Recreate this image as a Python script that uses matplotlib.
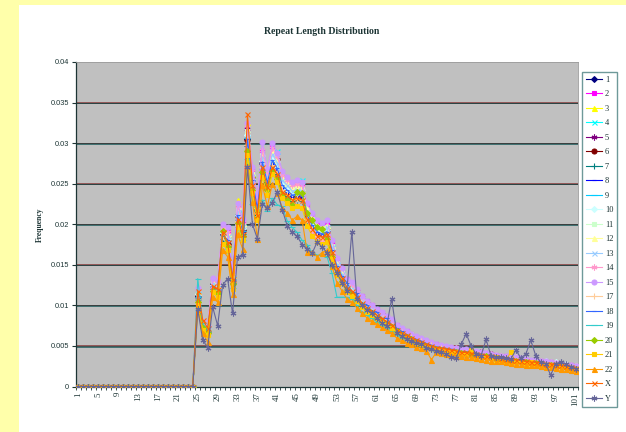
import matplotlib
matplotlib.use("Agg")
import matplotlib.pyplot as plt
from matplotlib.patches import Rectangle
import numpy as np

# Repeat lengths 1..101 on the category axis
lengths = list(range(1, 102))
tick_labels = [str(v) for v in range(1, 102, 4)]
y_ticks = [0, 0.005, 0.01, 0.015, 0.02, 0.025, 0.03, 0.035, 0.04]
y_tick_labels = ["0", "0.005", "0.01", "0.015", "0.02", "0.025", "0.03", "0.035", "0.04"]

# Frequencies are stored per 10,000; lengths 1-24 carry no repeats
LEAD = [0] * 24

# Lengths 25..101 for each chromosome
S1 = [112, 76, 70, 126, 120, 188, 176, 133, 212, 194,
      305, 254, 220, 276, 252, 280, 270, 250, 236, 238,
      238, 234, 212, 200, 190, 190, 192, 170, 150, 138,
      126, 121, 113, 106, 100, 95, 90, 86, 83, 79,
      72, 68, 65, 62, 59, 57, 54, 52, 50, 48,
      47, 46, 45, 43, 43, 42, 41, 40, 39, 38,
      37, 36, 35, 34, 34, 33, 32, 31, 31, 30,
      29, 29, 28, 27, 26, 25, 24]
S2 = [120, 80, 74, 132, 126, 196, 192, 140, 220, 204,
      318, 268, 228, 290, 262, 296, 262, 248, 240, 236,
      250, 246, 222, 210, 200, 198, 200, 178, 156, 145,
      132, 128, 118, 111, 105, 100, 95, 91, 86, 82,
      76, 71, 68, 65, 61, 59, 56, 54, 52, 50,
      49, 48, 47, 45, 45, 44, 43, 42, 41, 40,
      39, 38, 37, 35, 35, 34, 33, 32, 32, 31,
      30, 30, 29, 28, 27, 26, 25]
S3 = [116, 78, 72, 128, 124, 194, 186, 136, 230, 198,
      326, 262, 224, 284, 258, 288, 276, 254, 248, 244,
      244, 242, 218, 204, 196, 194, 196, 172, 152, 140,
      128, 124, 115, 108, 102, 97, 92, 88, 84, 80,
      73, 69, 66, 63, 60, 58, 55, 52, 50, 49,
      48, 47, 46, 44, 44, 43, 42, 41, 40, 39,
      34, 33, 33, 32, 31, 31, 30, 29, 29, 28,
      29, 29, 28, 27, 26, 25, 24]
S4 = [114, 77, 71, 126, 122, 190, 184, 134, 214, 196,
      308, 258, 222, 282, 255, 290, 290, 252, 246, 240,
      244, 255, 216, 202, 194, 192, 194, 172, 150, 139,
      127, 122, 114, 107, 101, 96, 91, 87, 83, 79,
      73, 68, 65, 62, 59, 57, 54, 52, 50, 48,
      47, 46, 45, 43, 43, 42, 41, 40, 39, 38,
      37, 36, 35, 34, 34, 33, 32, 31, 31, 30,
      29, 29, 28, 27, 26, 25, 24]
S5 = [108, 75, 69, 124, 119, 186, 180, 131, 210, 192,
      318, 252, 218, 276, 250, 278, 268, 246, 240, 236,
      236, 234, 210, 198, 190, 188, 190, 168, 148, 136,
      130, 126, 118, 110, 103, 98, 93, 89, 85, 81,
      71, 67, 64, 61, 58, 56, 53, 51, 49, 48,
      47, 46, 45, 43, 42, 42, 41, 40, 39, 38,
      37, 36, 35, 34, 33, 33, 32, 31, 30, 30,
      29, 28, 28, 27, 26, 25, 24]
S6 = [111, 76, 70, 125, 121, 188, 175, 132, 210, 193,
      304, 257, 218, 275, 262, 280, 280, 252, 240, 236,
      236, 234, 214, 198, 190, 192, 193, 162, 150, 137,
      125, 121, 112, 106, 99, 95, 90, 86, 82, 78,
      72, 68, 64, 61, 58, 56, 53, 51, 49, 48,
      44, 48, 43, 45, 40, 44, 39, 42, 37, 40,
      37, 36, 35, 34, 33, 33, 32, 31, 30, 30,
      29, 28, 28, 27, 26, 25, 24]
S7 = [108, 73, 67, 120, 116, 182, 176, 128, 205, 188,
      296, 247, 212, 268, 244, 272, 262, 241, 235, 229,
      230, 229, 205, 193, 185, 182, 186, 163, 143, 132,
      120, 116, 108, 101, 95, 91, 86, 82, 78, 74,
      69, 65, 62, 59, 56, 54, 51, 49, 47, 46,
      45, 44, 43, 41, 41, 40, 39, 38, 37, 36,
      35, 34, 33, 32, 32, 31, 30, 29, 29, 28,
      27, 27, 26, 25, 24, 23, 22]
S8 = [109, 75, 68, 123, 117, 184, 179, 131, 207, 191,
      302, 251, 216, 272, 249, 276, 266, 246, 240, 233,
      234, 233, 209, 197, 189, 186, 189, 166, 146, 135,
      123, 119, 111, 104, 98, 94, 89, 85, 81, 77,
      71, 67, 64, 61, 58, 56, 53, 51, 49, 48,
      47, 46, 44, 43, 42, 42, 41, 40, 39, 37,
      38, 34, 36, 32, 34, 31, 32, 29, 31, 28,
      28, 28, 27, 26, 25, 24, 23]
S9 = [110, 75, 69, 124, 120, 187, 180, 132, 210, 192,
      306, 253, 218, 276, 251, 279, 269, 248, 241, 236,
      237, 236, 211, 199, 191, 188, 191, 168, 148, 136,
      124, 120, 112, 105, 99, 95, 90, 86, 82, 78,
      72, 68, 64, 61, 58, 56, 53, 51, 49, 48,
      50, 49, 48, 46, 45, 44, 43, 42, 41, 40,
      37, 36, 35, 34, 33, 33, 32, 31, 30, 29,
      29, 28, 27, 27, 26, 25, 24]
S10 = [114, 77, 70, 125, 121, 189, 182, 134, 212, 195,
       310, 256, 220, 278, 254, 282, 272, 250, 244, 238,
       239, 238, 214, 201, 193, 190, 193, 170, 149, 138,
       126, 121, 113, 106, 100, 96, 91, 87, 82, 78,
       72, 68, 65, 62, 59, 57, 54, 52, 49, 48,
       47, 46, 45, 43, 43, 42, 41, 40, 39, 38,
       37, 36, 35, 34, 34, 33, 32, 31, 31, 30,
       31, 27, 30, 25, 28, 23, 25]
S11 = [115, 80, 72, 128, 125, 193, 186, 137, 218, 199,
       315, 262, 226, 285, 260, 289, 278, 256, 250, 244,
       245, 243, 218, 206, 197, 194, 197, 173, 152, 141,
       128, 124, 116, 108, 102, 98, 92, 88, 84, 80,
       74, 71, 64, 65, 58, 59, 53, 54, 49, 50,
       48, 47, 46, 44, 44, 43, 42, 41, 40, 39,
       38, 37, 36, 35, 35, 34, 33, 32, 32, 30,
       29, 29, 28, 27, 26, 25, 24]
S12 = [117, 78, 73, 130, 125, 196, 189, 138, 222, 201,
       318, 265, 228, 288, 263, 292, 281, 259, 252, 246,
       247, 246, 220, 208, 199, 196, 199, 175, 154, 142,
       129, 125, 117, 109, 103, 99, 93, 89, 85, 81,
       74, 70, 67, 64, 60, 58, 55, 53, 51, 50,
       49, 48, 47, 45, 45, 43, 42, 41, 40, 39,
       40, 36, 38, 33, 37, 32, 35, 31, 33, 29,
       30, 30, 29, 28, 27, 25, 24]
S13 = [115, 77, 70, 127, 123, 192, 185, 135, 216, 198,
       312, 260, 224, 283, 258, 286, 276, 254, 248, 241,
       242, 241, 216, 204, 196, 192, 196, 172, 151, 139,
       127, 123, 114, 107, 101, 97, 92, 87, 83, 79,
       73, 69, 66, 62, 59, 57, 54, 52, 50, 49,
       50, 45, 48, 42, 46, 41, 44, 39, 42, 37,
       37, 36, 35, 34, 34, 33, 32, 31, 31, 30,
       29, 29, 28, 27, 26, 25, 24]
S14 = [120, 79, 73, 132, 127, 198, 190, 139, 223, 203,
       322, 268, 230, 291, 265, 294, 284, 261, 255, 248,
       249, 248, 206, 192, 184, 180, 184, 162, 142, 132,
       131, 126, 118, 110, 104, 100, 94, 90, 86, 81,
       75, 71, 67, 64, 61, 59, 56, 54, 51, 50,
       49, 48, 47, 45, 45, 44, 43, 42, 41, 40,
       39, 38, 36, 35, 35, 34, 33, 32, 32, 31,
       30, 30, 29, 28, 27, 26, 25]
S15 = [122, 81, 74, 134, 130, 200, 196, 142, 226, 206,
       325, 270, 234, 302, 268, 300, 288, 266, 258, 252,
       254, 252, 226, 214, 205, 201, 205, 180, 158, 146,
       133, 129, 120, 112, 106, 101, 96, 92, 87, 83,
       76, 72, 69, 65, 62, 60, 57, 55, 52, 51,
       50, 49, 48, 46, 46, 45, 44, 43, 41, 40,
       39, 38, 37, 36, 36, 35, 34, 33, 33, 32,
       31, 30, 29, 28, 27, 26, 25]
S17 = [108, 80, 66, 119, 117, 184, 175, 129, 204, 189,
       298, 249, 214, 270, 246, 273, 263, 242, 236, 230,
       231, 230, 206, 194, 186, 183, 186, 164, 144, 133,
       121, 117, 109, 102, 96, 92, 87, 83, 79, 75,
       66, 67, 60, 61, 54, 56, 49, 51, 45, 48,
       45, 44, 43, 41, 41, 40, 39, 38, 37, 36,
       35, 34, 33, 32, 32, 31, 30, 29, 29, 28,
       27, 27, 26, 25, 24, 23, 22]
S18 = [111, 75, 69, 124, 120, 186, 181, 132, 211, 193,
       305, 254, 219, 277, 251, 279, 269, 248, 242, 236,
       237, 235, 211, 199, 191, 188, 191, 168, 148, 136,
       128, 117, 115, 102, 101, 93, 92, 84, 84, 76,
       72, 68, 64, 61, 58, 56, 53, 51, 49, 48,
       47, 46, 45, 43, 43, 42, 41, 40, 39, 38,
       37, 36, 35, 34, 33, 33, 32, 31, 30, 29,
       28, 28, 27, 26, 25, 24, 23]
S19 = [133, 78, 70, 118, 114, 176, 170, 122, 196, 180,
       280, 225, 216, 230, 216, 232, 224, 222, 204, 196,
       190, 180, 175, 165, 162, 162, 160, 140, 110, 110,
       110, 108, 100, 92, 88, 84, 80, 76, 72, 68,
       63, 60, 57, 54, 52, 50, 47, 46, 44, 43,
       42, 41, 40, 39, 38, 38, 37, 36, 35, 34,
       33, 32, 31, 31, 30, 29, 29, 28, 27, 27,
       26, 26, 25, 24, 23, 22, 21]
S20 = [104, 72, 66, 118, 115, 192, 172, 126, 202, 185,
       290, 242, 208, 264, 242, 266, 256, 236, 230, 224,
       240, 238, 214, 205, 196, 194, 182, 160, 140, 130,
       118, 114, 107, 100, 94, 90, 85, 81, 77, 73,
       68, 64, 61, 58, 55, 53, 50, 48, 46, 45,
       44, 43, 42, 41, 40, 40, 39, 38, 37, 36,
       35, 34, 33, 32, 32, 31, 30, 29, 29, 28,
       27, 27, 26, 25, 24, 23, 22]
S21 = [100, 70, 64, 116, 110, 176, 168, 120, 197, 180,
       285, 238, 205, 258, 236, 262, 252, 232, 226, 220,
       222, 220, 198, 186, 178, 176, 178, 157, 138, 127,
       116, 112, 105, 98, 92, 88, 84, 80, 76, 72,
       67, 63, 60, 57, 54, 52, 49, 48, 46, 45,
       44, 43, 42, 40, 40, 45, 38, 37, 36, 35,
       36, 31, 33, 42, 30, 32, 28, 30, 27, 29,
       27, 26, 26, 25, 24, 23, 22]
S22 = [95, 66, 55, 110, 104, 168, 160, 114, 188, 170,
       272, 228, 182, 248, 222, 250, 238, 220, 214, 205,
       210, 205, 166, 166, 160, 165, 168, 148, 128, 118,
       108, 104, 97, 90, 85, 81, 77, 73, 70, 66,
       60, 57, 54, 52, 49, 47, 44, 33, 42, 41,
       40, 39, 38, 37, 36, 36, 35, 34, 33, 32,
       31, 31, 30, 29, 28, 28, 27, 26, 26, 25,
       24, 24, 23, 22, 21, 20, 19]
SX = [118, 82, 72, 124, 120, 190, 178, 132, 206, 188,
      336, 248, 212, 270, 246, 270, 262, 240, 236, 230,
      232, 230, 206, 194, 186, 184, 188, 166, 146, 134,
      122, 118, 110, 103, 97, 93, 88, 84, 80, 76,
      70, 66, 63, 60, 57, 55, 52, 50, 48, 47,
      46, 45, 44, 42, 42, 41, 40, 39, 38, 37,
      36, 35, 34, 33, 33, 32, 31, 30, 30, 29,
      28, 28, 27, 26, 25, 24, 23]
SY = [95, 57, 48, 98, 75, 125, 133, 90, 160, 162,
      270, 200, 182, 225, 220, 226, 240, 218, 198, 190,
      185, 175, 170, 164, 178, 172, 165, 150, 140, 128,
      118, 191, 108, 100, 94, 90, 84, 78, 74, 108,
      66, 62, 58, 56, 54, 52, 48, 46, 44, 42,
      40, 36, 35, 52, 65, 50, 40, 38, 58, 38,
      36, 36, 35, 34, 45, 35, 40, 57, 38, 30,
      28, 14, 28, 30, 28, 24, 22]

names = ["1", "2", "3", "4", "5", "6", "7", "8", "9", "10", "11", "12",
         "13", "14", "15", "17", "18", "19", "20", "21", "22", "X", "Y"]
values = [S1, S2, S3, S4, S5, S6, S7, S8, S9, S10, S11, S12,
          S13, S14, S15, S17, S18, S19, S20, S21, S22, SX, SY]

colors = ["#000080", "#FF00FF", "#FFFF00", "#00FFFF", "#800080", "#800000",
          "#008080", "#0000FF", "#00CCFF", "#CCFFFF", "#CCFFCC", "#FFFF99",
          "#99CCFF", "#FF99CC", "#CC99FF", "#FFCC99", "#3366FF", "#33CCCC",
          "#99CC00", "#FFCC00", "#FF9900", "#FF6600", "#666699"]
# diamond, square, triangle, x, asterisk, circle, plus, short bar, long bar
marker_cycle = [("D", 3.0), ("s", 3.2), ("^", 3.6), ("x", 3.6), ((6, 2, 0), 4.2),
                ("o", 3.6), ("+", 4.2), ("_", 3.0), ("_", 5.0)]

BG_YELLOW = "#FFFFAA"
INK = "#1C3434"

fig = plt.figure(figsize=(6.26, 4.32), dpi=100)
fig.patch.set_facecolor(BG_YELLOW)
fig.add_artist(Rectangle((19 / 626, 0), 1, 1 - 5 / 432, transform=fig.transFigure,
                         facecolor="white", edgecolor="none", zorder=-5))

ax = fig.add_axes([76 / 626, 1 - 386.5 / 432, (578 - 76) / 626, (386.5 - 62) / 432])
ax.set_facecolor("#C0C0C0")

for i, (name, vals) in enumerate(zip(names, values)):
    mk, ms = marker_cycle[i % len(marker_cycle)]
    freq = np.array(LEAD + vals) / 1e4
    ax.plot(lengths, freq, color=colors[i], lw=0.8, marker=mk, ms=ms,
            mfc=colors[i], mec=colors[i], mew=0.8, label=name, zorder=3 + i * 0.01)

ax.set_xlim(0.5, 101.5)
ax.set_ylim(0, 0.04)

ax.set_yticks(y_ticks)
ax.set_yticklabels(y_tick_labels, fontfamily="Liberation Sans", fontsize=5.3, color=INK)
ax.tick_params(axis="y", direction="out", length=3, width=0.8, color=INK, pad=2)

ax.set_xticks(np.arange(0.5, 102, 1.0))
ax.set_xticklabels([])
ax.tick_params(axis="x", which="major", direction="out", length=2.5, width=0.6, color=INK)
ax.set_xticks(list(range(1, 102, 4)), minor=True)
ax.set_xticklabels(tick_labels, minor=True, rotation=90, fontfamily="Liberation Serif",
                   fontsize=6.3, color=INK)
ax.tick_params(axis="x", which="minor", length=0, pad=4)

# Gridlines drawn as a dark line with a faint red/teal edge pair
dy = 0.04 / 324.5 * 0.6
for yv in y_ticks[1:-1]:
    ax.axhline(yv + dy, color="#8A4646", lw=0.6, zorder=1)
    ax.axhline(yv - dy, color="#2A6464", lw=0.6, zorder=1)
    ax.axhline(yv, color="#2A3C3C", lw=0.6, zorder=1.1)

for side in ("left", "bottom"):
    ax.spines[side].set_color(INK)
    ax.spines[side].set_linewidth(0.9)
for side in ("top", "right"):
    ax.spines[side].set_color("#9A9A9A")
    ax.spines[side].set_linewidth(0.6)

fig.text(322 / 626, 1 - 31 / 432, "Repeat Length Distribution", ha="center", va="center",
         fontfamily="Liberation Serif", fontweight="bold", fontsize=7, color=INK)
fig.text(40 / 626, 1 - 225 / 432, "Frequency", ha="center", va="center", rotation=90,
         fontfamily="Liberation Serif", fontweight="bold", fontsize=5.5, color=INK)

leg = fig.legend(loc="upper left", bbox_to_anchor=(582 / 626, 1 - 72 / 432),
                 prop={"family": "Liberation Serif", "size": 6}, frameon=True,
                 fancybox=False, edgecolor="#4A8080", facecolor="white",
                 handlelength=2.0, handletextpad=0.3, labelspacing=0.78,
                 borderpad=0.45, borderaxespad=0, markerscale=1.0)
leg.get_frame().set_linewidth(1.0)
for t in leg.get_texts():
    t.set_color(INK)

fig.savefig("out.png", dpi=100, facecolor=fig.get_facecolor())
